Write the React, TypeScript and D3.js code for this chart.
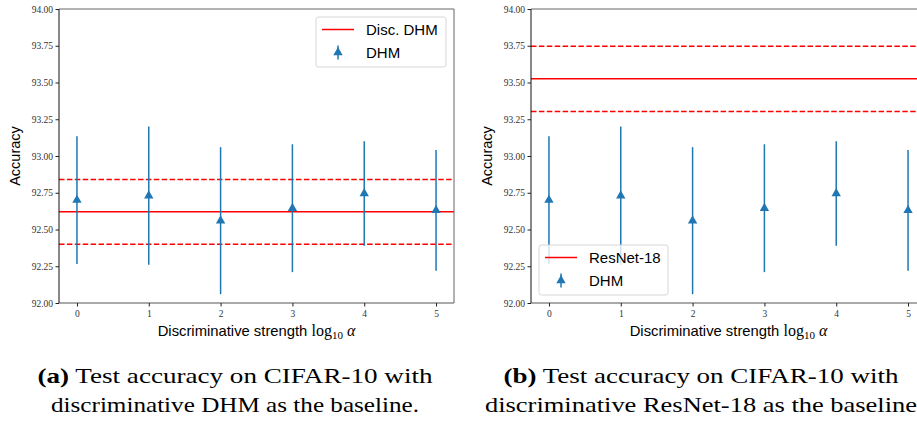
import React, { useEffect, useRef } from 'react';
import * as d3 from 'd3';

// log10(alpha) values and DHM accuracy (mean +- std)
const strengths = [0, 1, 2, 3, 4, 5];
const dhmMean = [92.70, 92.73, 92.56, 92.645, 92.745, 92.63];
const dhmErr = [0.435, 0.47, 0.5, 0.435, 0.355, 0.41];

const yTicks = [92.0, 92.25, 92.5, 92.75, 93.0, 93.25, 93.5, 93.75, 94.0];

// baselines for the two panels
const baselineNames = ['Disc. DHM', 'ResNet-18'];
const baselineMean = [92.62, 93.525];
const baselineErr = [0.22, 0.222];

const captionLines = [
  ['Test accuracy on CIFAR-10 with', 'discriminative DHM as the baseline.'],
  ['Test accuracy on CIFAR-10 with', 'discriminative ResNet-18 as the baseline'],
];
const captionTags = ['(a)', '(b)'];

const BLUE = '#1f77b4';
const RED = '#ff0000';
const SERIF = '"Liberation Serif", "DejaVu Serif", serif';
const SANS = '"Liberation Sans", Arial, sans-serif';

function drawPanel(svg, idx, left) {
  const width = 395;
  const top = 9;
  const bottom = 303;
  const g = svg.append('g');

  const x = d3.scaleLinear().domain([-0.25, 5.25]).range([left, left + width]);
  const y = d3.scaleLinear().domain([92, 94]).range([bottom, top]);

  // baseline lines
  const bm = baselineMean[idx];
  const be = baselineErr[idx];
  g.append('line')
    .attr('x1', x(-0.25)).attr('x2', x(5.25))
    .attr('y1', y(bm)).attr('y2', y(bm))
    .attr('stroke', RED).attr('stroke-width', 1.5);
  [bm - be, bm + be].forEach(v => {
    g.append('line')
      .attr('x1', x(-0.25)).attr('x2', x(5.25))
      .attr('y1', y(v)).attr('y2', y(v))
      .attr('stroke', RED).attr('stroke-width', 1.5)
      .attr('stroke-dasharray', '5.5,2.4');
  });

  // error bars
  const tri = d3.symbol().type(d3.symbolTriangle).size(38);
  strengths.forEach((s, i) => {
    g.append('line')
      .attr('x1', x(s)).attr('x2', x(s))
      .attr('y1', y(dhmMean[i] - dhmErr[i])).attr('y2', y(dhmMean[i] + dhmErr[i]))
      .attr('stroke', BLUE).attr('stroke-width', 1.5);
    g.append('path')
      .attr('d', tri())
      .attr('transform', `translate(${x(s)},${y(dhmMean[i])})`)
      .attr('fill', BLUE);
  });

  // spines
  g.append('line').attr('x1', left + width).attr('x2', left + width).attr('y1', top).attr('y2', bottom)
    .attr('stroke', '#666').attr('stroke-width', 1);
  g.append('line').attr('x1', left).attr('x2', left + width).attr('y1', top).attr('y2', top)
    .attr('stroke', '#666').attr('stroke-width', 1);
  g.append('line').attr('x1', left).attr('x2', left + width).attr('y1', bottom).attr('y2', bottom)
    .attr('stroke', '#555').attr('stroke-width', 1);
  g.append('line').attr('x1', left).attr('x2', left).attr('y1', top).attr('y2', bottom)
    .attr('stroke', '#111').attr('stroke-width', 1);

  // y axis
  const yAxis = g.append('g')
    .attr('transform', `translate(${left},0)`)
    .call(d3.axisLeft(y).tickValues(yTicks).tickFormat(d3.format('.2f')).tickSize(3.5).tickPadding(2.5));
  yAxis.select('.domain').remove();
  yAxis.selectAll('line').attr('stroke', '#222');
  yAxis.selectAll('text').attr('font-family', SERIF).attr('font-size', 9.5).attr('fill', '#333');

  // x axis
  const xAxis = g.append('g')
    .attr('transform', `translate(0,${bottom})`)
    .call(d3.axisBottom(x).tickValues(strengths).tickFormat(d3.format('d')).tickSize(3.5).tickPadding(4));
  xAxis.select('.domain').remove();
  xAxis.selectAll('line').attr('stroke', '#222');
  xAxis.selectAll('text').attr('font-family', SERIF).attr('font-size', 9.5).attr('fill', '#333');

  // axis labels
  g.append('text')
    .attr('transform', `translate(${left - 39},${(top + bottom) / 2}) rotate(-90)`)
    .attr('text-anchor', 'middle')
    .attr('font-family', SANS).attr('font-size', 14.5)
    .text('Accuracy');

  const xl = g.append('text')
    .attr('x', (x(-0.25) + x(5.25)) / 2).attr('y', 336)
    .attr('text-anchor', 'middle')
    .attr('font-family', SANS).attr('font-size', 14.8);
  xl.append('tspan').text('Discriminative strength ');
  xl.append('tspan').attr('font-family', SERIF).attr('font-size', 16).text('log');
  xl.append('tspan').attr('font-family', SERIF).attr('font-size', 11).attr('dy', 3).text('10');
  xl.append('tspan').attr('font-family', SERIF).attr('font-size', 16).attr('font-style', 'italic').attr('dy', -3).text(' α');

  // legend
  const lg = idx === 0
    ? { x: 316, y: 17, w: 130, h: 50 }
    : { x: left + 8, y: 245, w: 129, h: 50 };
  g.append('rect')
    .attr('x', lg.x).attr('y', lg.y).attr('width', lg.w).attr('height', lg.h)
    .attr('rx', 2.5).attr('fill', 'white').attr('fill-opacity', 0.8)
    .attr('stroke', '#d6d6d6').attr('stroke-width', 1);
  g.append('line')
    .attr('x1', lg.x + 6).attr('x2', lg.x + 38)
    .attr('y1', lg.y + 12.5).attr('y2', lg.y + 12.5)
    .attr('stroke', RED).attr('stroke-width', 1.5);
  g.append('text')
    .attr('x', lg.x + 50).attr('y', lg.y + 18)
    .attr('font-family', SANS).attr('font-size', 15)
    .text(baselineNames[idx]);
  const mx = lg.x + 22;
  const my = lg.y + 35.5;
  g.append('line').attr('x1', mx).attr('x2', mx).attr('y1', my - 7).attr('y2', my + 7)
    .attr('stroke', BLUE).attr('stroke-width', 1.5);
  g.append('path').attr('d', tri()).attr('transform', `translate(${mx},${my})`).attr('fill', BLUE);
  g.append('text')
    .attr('x', lg.x + 50).attr('y', lg.y + 41)
    .attr('font-family', SANS).attr('font-size', 15)
    .text('DHM');

  // caption (Computer Modern is wider than Times, so stretch to the measured widths)
  const cx = idx === 0 ? 235 : 701;
  const w1 = 395;
  const w2 = idx === 0 ? 368 : 432;
  const c1 = g.append('text')
    .attr('x', cx).attr('y', 383)
    .attr('text-anchor', 'middle')
    .attr('font-family', SERIF).attr('font-size', 22)
    .attr('textLength', w1).attr('lengthAdjust', 'spacingAndGlyphs');
  c1.append('tspan').attr('font-weight', 'bold').text(captionTags[idx]);
  c1.append('tspan').text(' ' + captionLines[idx][0]);
  g.append('text')
    .attr('x', cx).attr('y', 412)
    .attr('text-anchor', 'middle')
    .attr('font-family', SERIF).attr('font-size', 22)
    .attr('textLength', w2).attr('lengthAdjust', 'spacingAndGlyphs')
    .text(captionLines[idx][1]);
}

export default function App() {
  const ref = useRef(null);

  useEffect(() => {
    document.body.style.margin = '0';
    const svg = d3.select(ref.current);
    svg.selectAll('*').remove();
    drawPanel(svg, 0, 59);
    drawPanel(svg, 1, 531);
  }, []);

  return (
    <svg ref={ref} width={917} height={422} style={{ display: 'block', background: 'white' }} />
  );
}
